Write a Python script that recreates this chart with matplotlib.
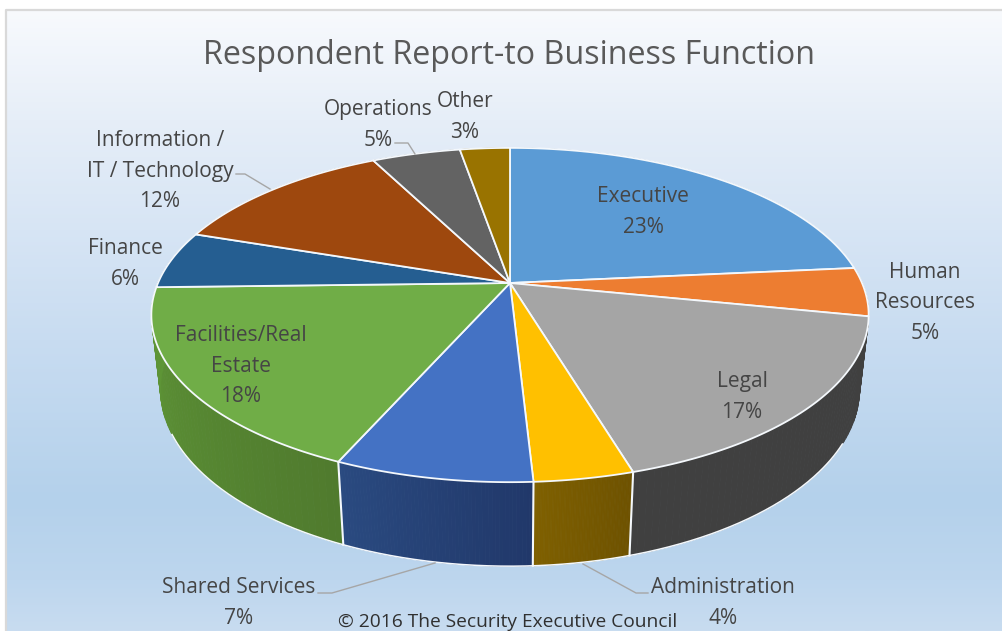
import numpy as np
import matplotlib
matplotlib.use("Agg")
import matplotlib.pyplot as plt
from matplotlib.patches import Polygon
from matplotlib.colors import to_rgb

# ---- data -------------------------------------------------------------
categories = ["Executive", "Human\nResources", "Legal", "Administration", "Shared Services",
              "Facilities/Real\nEstate", "Finance", "Information /\nIT / Technology",
              "Operations", "Other"]
values = [23.49, 4.7, 17.2, 3.75, 7.45, 18.0, 5.6, 12.3, 4.8, 2.71]
top_colors = ["#5B9BD5", "#ED7D31", "#A5A5A5", "#FFC000", "#4472C4",
              "#70AD47", "#255E91", "#9E480E", "#636363", "#997300"]
wall_a = ["#3A6A96", "#A5571F", "#404040", "#6E5200", "#21386A",
          "#507B2E", "#1A4268", "#6E320A", "#454545", "#6B5000"]
wall_b = ["#3A6A96", "#A5571F", "#404040", "#7F6000", "#2A4A80",
          "#5F9737", "#1A4268", "#6E320A", "#454545", "#6B5000"]
label_xy = [(643, 212), (925, 303), (742, 397), (723, 603), (239, 603),
            (241, 366), (125, 264), (160, 171), (378, 125), (465, 117)]
title = "Respondent Report-to Business Function"
credit = "\u00a9 2016 The Security Executive Council"
leaders = [([395, 408, 415], [143, 143, 154]),
           ([236, 245, 270], [174, 174, 189]),
           ([318, 332, 435], [593, 593, 563]),
           ([648, 636, 583], [593, 593, 564])]

# ---- projection of the pie disc to the page ----------------------------
CX, CY, A, B, K, DEPTH, M = 510, 283, 352, 161, -0.1916, 75, 0.025


def project(theta, z=0.0):
    X, Y = np.sin(theta), -np.cos(theta)
    w = 1 + K * Y + M * z
    return CX + A * X / w, CY + (B * Y + DEPTH * z) / w


plt.rcParams["font.family"] = ["Open Sans", "DejaVu Sans"]
fig = plt.figure(figsize=(10.02, 6.31), dpi=100, facecolor="white")
ax = fig.add_axes([0, 0, 1, 1])

# background gradient
stops_y = [9, 120, 340, 500, 580, 631]
stops_c = ["#F8FAFD", "#E6EEF8", "#C8DCF1", "#B4D1EB", "#BDD6EE", "#C8DCF0"]
ys = np.arange(9, 632)
grad = np.stack([np.interp(ys, stops_y, [to_rgb(c)[i] for c in stops_c]) for i in range(3)], axis=1)
ax.imshow(grad[:, None, :], extent=(7, 1002, 631, 9), aspect="auto", zorder=0, interpolation="bilinear")
ax.set_xlim(0, 1002)
ax.set_ylim(631, 0)
ax.axis("off")
ax.plot([6.5, 6.5, 1002], [631, 9.5, 9.5], color="#D9D9D9", lw=1.6, zorder=1)

edges = 2 * np.pi * np.cumsum([0] + values) / np.sum(values)

# walls, back to front
order = sorted(range(len(values)), key=lambda i: -np.cos((edges[i] + edges[i + 1]) / 2))
for i in order:
    ts = np.linspace(edges[i], edges[i + 1], 60)
    ca, cb = np.array(to_rgb(wall_a[i])), np.array(to_rgb(wall_b[i]))
    for j in range(len(ts) - 1):
        x0, y0 = project(ts[j])
        x1, y1 = project(ts[j + 1])
        x2, y2 = project(ts[j + 1], z=1)
        x3, y3 = project(ts[j], z=1)
        c = ca + (cb - ca) * j / (len(ts) - 2)
        ax.add_patch(Polygon([(x0, y0), (x1, y1), (x2, y2), (x3, y3)], closed=True,
                             facecolor=c, edgecolor=c, lw=0.6, zorder=2))

# white rim along the visible lower wall edge
rim = np.linspace(np.radians(118), np.radians(245), 300)
bx, by = project(rim, z=1)
ax.plot(bx, by, color="#F4F8FC", lw=1.1, zorder=3)

# visible vertical wall seams
for t in edges:
    if project(t)[1] > 400:
        x0, y0 = project(t)
        x1, y1 = project(t, z=1)
        ax.plot([x0, x1], [y0, y1], color="#F4F8FC", lw=1.5, zorder=3)

# top faces
for i in range(len(values)):
    ts = np.linspace(edges[i], edges[i + 1], 120)
    x, y = project(ts)
    pts = [(CX, CY)] + list(zip(x, y))
    ax.add_patch(Polygon(pts, closed=True, facecolor=top_colors[i], edgecolor="#F4F8FC",
                         lw=1.3, joinstyle="round", zorder=4))

# leader lines
for lx, ly in leaders:
    ax.plot(lx, ly, color="#A6A6A6", lw=1.0, zorder=5)

# labels
for name, v, (x, y) in zip(categories, values, label_xy):
    ax.text(x, y, f"{name}\n{v:.0f}%", ha="center", va="center", fontsize=15,
            color="#454545", linespacing=1.58, zorder=6)

ax.text(509, 55, title, ha="center", va="center", fontsize=23.2, color="#595959", zorder=6)
ax.text(508, 622, credit, ha="center", va="center", fontsize=13.8, color="#303030", zorder=6)

fig.savefig("out.png", dpi=100)
